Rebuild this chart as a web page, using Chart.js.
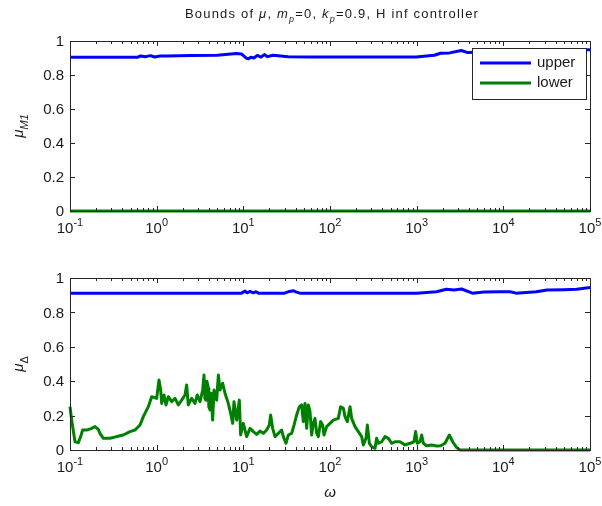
<!DOCTYPE html>
<html><head><meta charset="utf-8">
<script src="https://cdn.jsdelivr.net/npm/chart.js@4"></script>
<style>body{margin:0;background:#fff;overflow:hidden;} canvas{position:absolute;left:0;}</style>
</head><body>
<canvas id="c1" width="602" height="253" style="top:0px"></canvas>
<canvas id="c2" width="602" height="253" style="top:253px"></canvas>
<script>
// ---------- data ----------
const xDecades = [0.1, 1, 10, 100, 1000, 10000, 100000];
const xDecadeExps = ['-1', '0', '1', '2', '3', '4', '5'];
const yTickValues = [0, 0.2, 0.4, 0.6, 0.8, 1];
const yTickLabels = ['0', '0.2', '0.4', '0.6', '0.8', '1'];
const seriesNames = ['upper', 'lower'];

// top panel (mu_M1)
const topUpperW = [0.1, 0.6, 0.65, 0.75, 0.85, 0.95, 1.1, 1.3, 2.5, 5, 8.3, 9.5, 10.9, 11.5, 12.2, 13.2, 14.5, 16, 17.5, 19, 22, 27, 33, 57, 990, 1300, 1600, 1880, 2400, 3270, 3900, 6000, 20000, 60000, 100000];
const topUpperV = [0.904, 0.904, 0.912, 0.908, 0.914, 0.906, 0.912, 0.912, 0.914, 0.916, 0.926, 0.924, 0.898, 0.896, 0.905, 0.9, 0.915, 0.905, 0.92, 0.908, 0.916, 0.912, 0.908, 0.906, 0.906, 0.912, 0.916, 0.928, 0.93, 0.944, 0.932, 0.935, 0.94, 0.945, 0.948];
const topLowerW = [0.1, 100000];
const topLowerV = [0, 0];

// bottom panel (mu_Delta)
const botUpperW = [0.1, 9.5, 10.5, 11, 12, 13, 14, 15, 30, 34, 38, 41, 45, 1000, 1300, 1700, 2200, 2700, 3300, 4400, 6000, 9000, 12000, 14000, 24000, 32000, 50000, 70000, 100000];
const botUpperV = [0.912, 0.912, 0.924, 0.914, 0.922, 0.914, 0.92, 0.912, 0.912, 0.922, 0.926, 0.918, 0.912, 0.912, 0.916, 0.92, 0.935, 0.93, 0.936, 0.912, 0.918, 0.92, 0.92, 0.912, 0.92, 0.93, 0.932, 0.935, 0.945];
const botLowerW = [
  0.1, 0.1045, 0.1142, 0.1248, 0.1327, 0.140, 0.1556, 0.1777, 0.1942, 0.2121,
  0.2218, 0.2424, 0.2896, 0.3455, 0.4121, 0.492, 0.5623, 0.6424, 0.7018, 0.8017,
  0.875, 1.0, 1.064, 1.112, 1.143, 1.216, 1.282, 1.364, 1.49, 1.629,
  1.778, 1.942, 2.122, 2.218, 2.318, 2.535, 2.768, 2.944, 3.162, 3.396,
  3.516, 3.6, 3.707, 3.8, 3.945, 4.0, 4.124, 4.25, 4.425, 4.588,
  4.924, 5.15, 5.383, 5.777, 6.142, 6.713, 7.142, 7.536, 7.8, 8.375,
  8.99, 9.31, 10.0, 10.92, 11.94, 13.04, 14.25, 15.57, 17.01, 18.58,
  19.95, 20.66, 21.79, 23.2, 25.34, 27.68, 28.93, 31.05, 33.02, 36.1,
  38.45, 41.2, 44.3, 47.1, 49.2, 51.5, 53.8, 56.2, 58.8, 61.4,
  64.2, 67.1, 70.2, 73.3, 78.0, 82.3, 85.3, 91.5, 100, 109.2,
  124.7, 132.7, 142.6, 149.0, 158.5, 170.2, 177.8, 194.3, 212.3, 231.9,
  242.5, 260.2, 269.8, 284.6, 302.7, 330.7, 345.3, 361.2, 394.6, 431.1,
  471.2, 515, 562.3, 642.3, 733, 837.5, 931, 973, 1018, 1092,
  1142, 1194, 1304, 1489, 1702, 1893, 2124, 2383, 2603, 2897,
  3162, 100000];
const botLowerV = [
  0.252, 0.174, 0.048, 0.043, 0.078, 0.116, 0.116, 0.126, 0.136, 0.12,
  0.097, 0.068, 0.068, 0.078, 0.087, 0.107, 0.116, 0.145, 0.194, 0.252,
  0.31, 0.30, 0.407, 0.349, 0.271, 0.32, 0.262, 0.31, 0.281, 0.30,
  0.262, 0.29, 0.32, 0.378, 0.262, 0.30, 0.271, 0.32, 0.281, 0.349,
  0.436, 0.30, 0.29, 0.40, 0.359, 0.25, 0.233, 0.33, 0.174, 0.349,
  0.29, 0.436, 0.349, 0.388, 0.33, 0.271, 0.213, 0.155, 0.281, 0.174,
  0.29, 0.087, 0.155, 0.078, 0.126, 0.107, 0.091, 0.11, 0.097, 0.116,
  0.145, 0.203, 0.126, 0.078, 0.097, 0.116, 0.078, 0.039, 0.087, 0.097,
  0.145, 0.203, 0.252, 0.262, 0.165, 0.271, 0.126, 0.262, 0.223, 0.087,
  0.155, 0.184, 0.097, 0.078, 0.165, 0.145, 0.087, 0.136, 0.155, 0.174,
  0.184, 0.252, 0.242, 0.194, 0.165, 0.252, 0.184, 0.136, 0.107, 0.078,
  0.029, 0.068, 0.145, 0.039, 0.019, 0.01, 0.068, 0.039, 0.048, 0.078,
  0.068, 0.039, 0.048, 0.048, 0.029, 0.039, 0.048, 0.107, 0.039, 0.048,
  0.087, 0.039, 0.025, 0.029, 0.023, 0.025, 0.039, 0.087, 0.048, 0.014,
  0, 0];

const BLUE = '#0000ff', GREEN = '#008000';
const FONT = '"Liberation Sans", Arial, Helvetica, sans-serif';
const AXIS_COLOR = '#262626';

function pts(w, v) { return w.map((x, i) => ({ x: x, y: v[i] })); }

function fontFor(p, size) {
  const s = (p.sub || p.sup) ? Math.round(size * 0.72) : size;
  return (p.it ? 'italic ' : '') + s + 'px ' + FONT;
}
function richWidth(ctx, parts, size) {
  let w = 0;
  for (const p of parts) { ctx.font = fontFor(p, size); w += ctx.measureText(p.t).width; }
  return w;
}
function drawRich(ctx, parts, x, y, size, align) {
  const w = richWidth(ctx, parts, size);
  let cx = align === 'center' ? x - w / 2 : (align === 'right' ? x - w : x);
  ctx.textAlign = 'left';
  ctx.textBaseline = 'alphabetic';
  for (const p of parts) {
    ctx.font = fontFor(p, size);
    let dy = 0;
    if (p.sub) dy = size * 0.3;
    if (p.sup) dy = -size * 0.5;
    ctx.fillText(p.t, cx, y + dy);
    cx += ctx.measureText(p.t).width;
  }
}

const axesPlugin = {
  id: 'matlabAxes',
  afterDatasetsDraw(chart, args, o) {
    const { ctx, chartArea: a } = chart;
    const xs = chart.scales.x, ys = chart.scales.y;
    ctx.save();
    ctx.strokeStyle = AXIS_COLOR;
    ctx.lineWidth = 1;
    ctx.strokeRect(Math.round(a.left) + 0.5, Math.round(a.top) + 0.5, Math.round(a.right - a.left), Math.round(a.bottom - a.top));
    ctx.beginPath();
    for (let d = 0; d < xDecades.length; d++) {
      const base = xDecades[d];
      for (let k = 1; k <= 9; k++) {
        const v = base * k;
        if (v > 100000 * 1.0001) break;
        const px = Math.round(xs.getPixelForValue(v)) + 0.5;
        const len = k === 1 ? 5 : 3;
        ctx.moveTo(px, a.bottom); ctx.lineTo(px, a.bottom - len);
        ctx.moveTo(px, a.top); ctx.lineTo(px, a.top + len);
      }
    }
    for (const v of yTickValues) {
      const py = Math.round(ys.getPixelForValue(v)) + 0.5;
      ctx.moveTo(a.left, py); ctx.lineTo(a.left + 5, py);
      ctx.moveTo(a.right, py); ctx.lineTo(a.right - 5, py);
    }
    ctx.stroke();

    ctx.fillStyle = '#1a1a1a';
    for (let i = 0; i < xDecades.length; i++) {
      const px = xs.getPixelForValue(xDecades[i]);
      drawRich(ctx, [{ t: '10' }, { t: xDecadeExps[i], sup: true }], px, a.bottom + 22, 15, 'center');
    }
    ctx.font = '15px ' + FONT;
    ctx.textAlign = 'right';
    ctx.textBaseline = 'middle';
    for (let i = 0; i < yTickValues.length; i++) {
      ctx.fillText(yTickLabels[i], a.left - 6, ys.getPixelForValue(yTickValues[i]) + 1);
    }

    ctx.save();
    ctx.translate(23, (a.top + a.bottom) / 2);
    ctx.rotate(-Math.PI / 2);
    drawRich(ctx, o.ylabel, 0, 0, 15, 'center');
    ctx.restore();

    if (o.xlabel) {
      drawRich(ctx, o.xlabel, (a.left + a.right) / 2, a.bottom + 47, 15, 'center');
    }
    if (o.title) {
      ctx.save();
      ctx.letterSpacing = '1.2px';
      drawRich(ctx, o.title, 332, 18, 13, 'center');
      ctx.restore();
    }
    if (o.legend) {
      const lx = 472, ly = 48, lw = 114, lh = 51;
      ctx.fillStyle = '#fff';
      ctx.fillRect(lx, ly, lw, lh);
      ctx.strokeStyle = AXIS_COLOR;
      ctx.lineWidth = 1;
      ctx.strokeRect(lx + 0.5, ly + 0.5, lw, lh);
      const ds = chart.data.datasets;
      for (let i = 0; i < ds.length; i++) {
        const yy = ly + 15 + i * 20;
        ctx.strokeStyle = ds[i].borderColor;
        ctx.lineWidth = 3;
        ctx.beginPath(); ctx.moveTo(lx + 8, yy); ctx.lineTo(lx + 59, yy); ctx.stroke();
        ctx.fillStyle = '#1a1a1a';
        ctx.font = '15px ' + FONT;
        ctx.textAlign = 'left';
        ctx.textBaseline = 'middle';
        ctx.fillText(ds[i].label, lx + 65, yy);
      }
    }
    ctx.restore();
  }
};

function makeChart(id, datasets, padTop, xAxisH, extra) {
  return new Chart(document.getElementById(id), {
    type: 'line',
    data: { datasets: datasets },
    options: {
      responsive: false,
      animation: false,
      layout: { padding: { top: padTop, right: 12, left: 0, bottom: 0 } },
      plugins: { legend: { display: false }, tooltip: { enabled: false }, title: { display: false }, matlabAxes: extra },
      scales: {
        x: { type: 'logarithmic', min: 0.1, max: 100000, grid: { display: false }, border: { display: false }, ticks: { display: false }, afterFit(s) { s.height = xAxisH; } },
        y: { type: 'linear', min: 0, max: 1, grid: { display: false }, border: { display: false }, ticks: { display: false }, afterFit(s) { s.width = 70; } }
      },
      elements: { point: { radius: 0 }, line: { tension: 0, borderWidth: 3, borderJoinStyle: 'round', borderCapStyle: 'butt' } }
    },
    plugins: [axesPlugin]
  });
}

makeChart('c1', [
  { label: seriesNames[0], data: pts(topUpperW, topUpperV), borderColor: BLUE, clip: 4 },
  { label: seriesNames[1], data: pts(topLowerW, topLowerV), borderColor: GREEN, clip: 4 }
], 41, 42, {
  ylabel: [{ t: 'μ', it: true }, { t: 'M1', it: true, sub: true }],
  title: [{ t: 'Bounds of ' }, { t: 'μ', it: true }, { t: ', ' }, { t: 'm', it: true }, { t: 'p', it: true, sub: true }, { t: '=0, ' }, { t: 'k', it: true }, { t: 'p', it: true, sub: true }, { t: '=0.9, H inf controller' }],
  legend: true
});

makeChart('c2', [
  { label: seriesNames[0], data: pts(botUpperW, botUpperV), borderColor: BLUE, clip: 4 },
  { label: seriesNames[1], data: pts(botLowerW, botLowerV), borderColor: GREEN, clip: 4 }
], 25, 56, {
  ylabel: [{ t: 'μ', it: true }, { t: 'Δ', sub: true }],
  xlabel: [{ t: 'ω', it: true }]
});
</script>
</body></html>
